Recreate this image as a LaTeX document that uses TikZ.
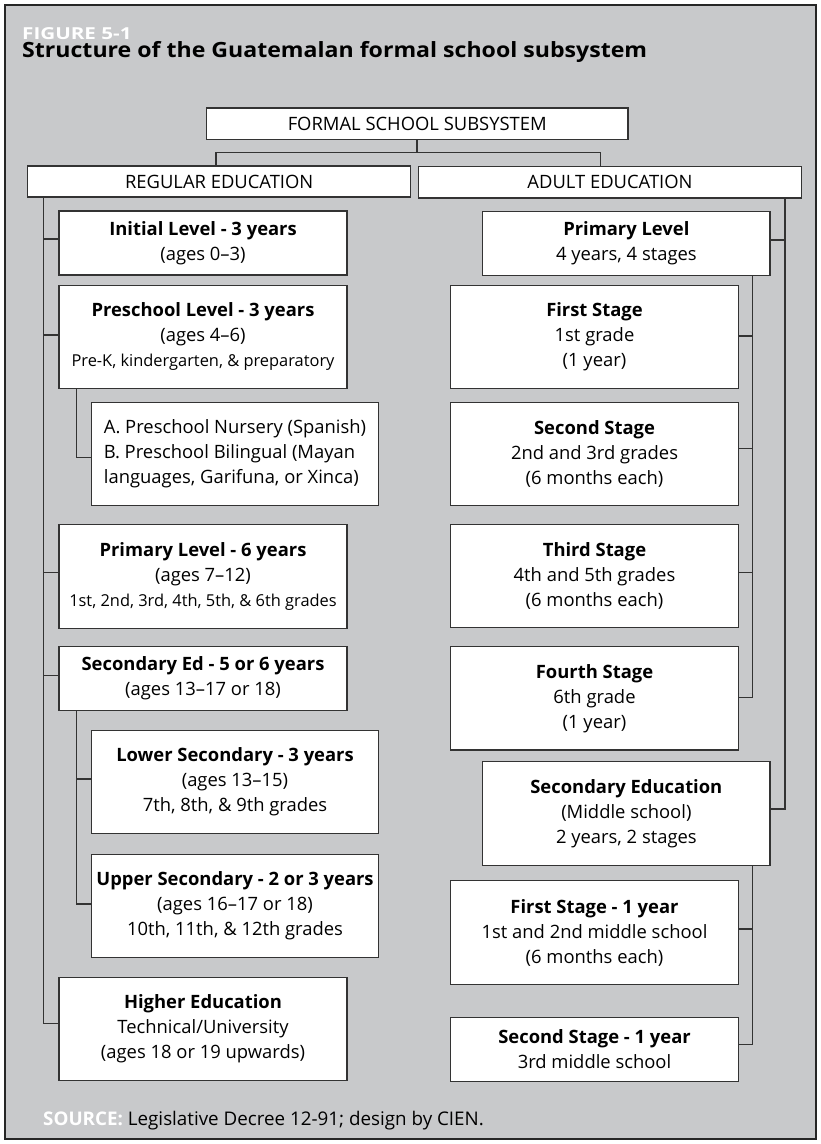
\documentclass[tikz,border=0pt]{standalone}
\usepackage{fontspec}
\setmainfont{Open Sans}
\newfontfamily\ttlfont[FakeStretch=1.1]{Open Sans}
\newfontfamily\figfont[FakeStretch=1.25]{Open Sans}
\usetikzlibrary{calc}
\definecolor{bg}{HTML}{C8C9CB}
\definecolor{ln}{HTML}{333333}
\definecolor{frm}{HTML}{262626}
\newcommand\fsN{\fontsize{18.4}{25}\selectfont}
\newcommand\fsS{\fontsize{16.4}{25}\selectfont}
\tikzset{
  box/.style={draw=ln, line width=1.1pt, fill=white, inner sep=0pt, align=center, font=\fsN},
  conn/.style={draw=ln, line width=1.1pt},
}
\begin{document}
\begin{tikzpicture}[x=1pt,y=-1pt]
\useasboundingbox (0,0) rectangle (820,1144);
\draw[line width=2pt, draw=frm, fill=bg] (5,5) rectangle (816,1139);
\node[anchor=base west, inner sep=0pt, text=white, font=\figfont\bfseries\fontsize{16.5}{17}\selectfont] (fig) at (22,39) {FIGURE 5-1};
\node[anchor=base west, inner sep=0pt, font=\ttlfont\bfseries\fontsize{21}{22}\selectfont] (title) at (22,57) {Structure of the Guatemalan formal school subsystem};
\node[anchor=base west, inner sep=0pt, font=\fontsize{18.8}{19}\selectfont] (src) at (43,1125) {\textcolor{white}{\textbf{SOURCE:}} Legislative Decree 12-91; design by CIEN.};

% top
\node[box, minimum width=421.5pt, minimum height=31.5pt] (formal) at (417.25,123.75) {FORMAL SCHOOL SUBSYSTEM};
\node[box, minimum width=383pt, minimum height=31pt] (regular) at (219.2,181.5) {REGULAR EDUCATION};
\node[box, minimum width=383.4pt, minimum height=31.5pt] (adult) at (610,182.25) {ADULT EDUCATION};

% left main column
\node[box, minimum width=288pt, minimum height=64pt] (initial) at (203,243) {\textbf{Initial Level - 3 years}\\(ages 0--3)};
\node[box, minimum width=288pt, minimum height=103.3pt] (preschool) at (203,336.7) {\textbf{Preschool Level - 3 years}\\(ages 4--6)\\{\fsS Pre-K, kindergarten, \& preparatory}};
\node[box, minimum width=286.6pt, minimum height=102.7pt, align=left] (presub) at (235,453.7) {A. Preschool Nursery (Spanish)\\B. Preschool Bilingual (Mayan\\languages, Garifuna, or Xinca)};
\node[box, minimum width=288pt, minimum height=104pt] (primL) at (203,576.3) {\textbf{Primary Level - 6 years}\\(ages 7--12)\\{\fsS 1st, 2nd, 3rd, 4th, 5th, \& 6th grades}};
\node[box, minimum width=288pt, minimum height=63.6pt] (seced) at (203,678.5) {\textbf{Secondary Ed - 5 or 6 years}\\(ages 13--17 or 18)};
\node[box, minimum width=286.6pt, minimum height=103.3pt] (lower) at (235,781.7) {\textbf{Lower Secondary - 3 years}\\(ages 13--15)\\7th, 8th, \& 9th grades};
\node[box, minimum width=286.6pt, minimum height=103.3pt] (upper) at (235,905.7) {\textbf{Upper Secondary - 2 or 3 years}\\(ages 16--17 or 18)\\10th, 11th, \& 12th grades};
\node[box, minimum width=288pt, minimum height=103pt] (higher) at (203,1029.2) {\textbf{Higher Education}\\Technical/University\\(ages 18 or 19 upwards)};

% right column
\node[box, minimum width=287.3pt, minimum height=64.3pt] (primA) at (626.35,243.2) {\textbf{Primary Level}\\4 years, 4 stages};
\node[box, minimum width=287.6pt, minimum height=103.3pt] (first) at (594.5,336.7) {\textbf{First Stage}\\1st grade\\(1 year)};
\node[box, minimum width=287.6pt, minimum height=103.4pt] (second) at (594.5,454) {\textbf{Second Stage}\\2nd and 3rd grades\\(6 months each)};
\node[box, minimum width=287.6pt, minimum height=103.4pt] (third) at (594.5,576) {\textbf{Third Stage}\\4th and 5th grades\\(6 months each)};
\node[box, minimum width=287.6pt, minimum height=103.3pt] (fourth) at (594.5,698.3) {\textbf{Fourth Stage}\\6th grade\\(1 year)};
\node[box, minimum width=287.3pt, minimum height=104pt] (secA) at (626.35,813.7) {\textbf{Secondary Education}\\(Middle school)\\2 years, 2 stages};
\node[box, minimum width=287.6pt, minimum height=103.6pt] (first1) at (594.5,932.5) {\textbf{First Stage - 1 year}\\1st and 2nd middle school\\(6 months each)};
\node[box, minimum width=287.6pt, minimum height=63.7pt] (second1) at (594.5,1049.2) {\textbf{Second Stage - 1 year}\\3rd middle school};

% trunk coordinates
\coordinate (TL) at (43.7,0);
\coordinate (SL) at (76.7,0);
\coordinate (TR) at (785,0);
\coordinate (SR) at (752.3,0);
\coordinate (jl) at (216,0);
\coordinate (jr) at (600.7,0);
\coordinate (jm) at (0,152.7);

% connectors top
\draw[conn] (formal.south -| 417,0) -- (417,152.7);
\draw[conn] (regular.north -| jl) -- (jl |- jm) -| (adult.north -| jr);

% left trunk
\draw[conn] (regular.south -| TL) |- ([yshift=6pt]higher.west);
\draw[conn] ([yshift=4pt]initial.west) -- ++(-15.3,0);
\draw[conn] ([yshift=1.7pt]preschool.west) -- ++(-15.3,0);
\draw[conn] ([yshift=3.5pt]primL.west) -- ++(-15.3,0);
\draw[conn] ([yshift=2.8pt]seced.west) -- ++(-15.3,0);
\draw[conn] (preschool.south -| SL) |- ([yshift=-3.6pt]presub.west);
\draw[conn] (seced.south -| SL) |- ([yshift=1.7pt]upper.west);
\draw[conn] ([yshift=2.7pt]lower.west) -- ++(-15,0);

% right trunk
\draw[conn] (adult.south -| TR) |- ([yshift=4.7pt]secA.east);
\draw[conn] ([yshift=3.2pt]primA.east) -- ++(15,0);
\draw[conn] (primA.south -| SR) |- ([yshift=1pt]fourth.east);
\draw[conn] ([yshift=0.7pt]first.east) -- ++(14,0);
\draw[conn] ([yshift=5.7pt]second.east) -- ++(14,0);
\draw[conn] ([yshift=3.3pt]third.east) -- ++(14,0);
\draw[conn] (secA.south -| SR) |- ([yshift=4.9pt]second1.east);
\draw[conn] ([yshift=3.5pt]first1.east) -- ++(14,0);
\end{tikzpicture}
\end{document}
